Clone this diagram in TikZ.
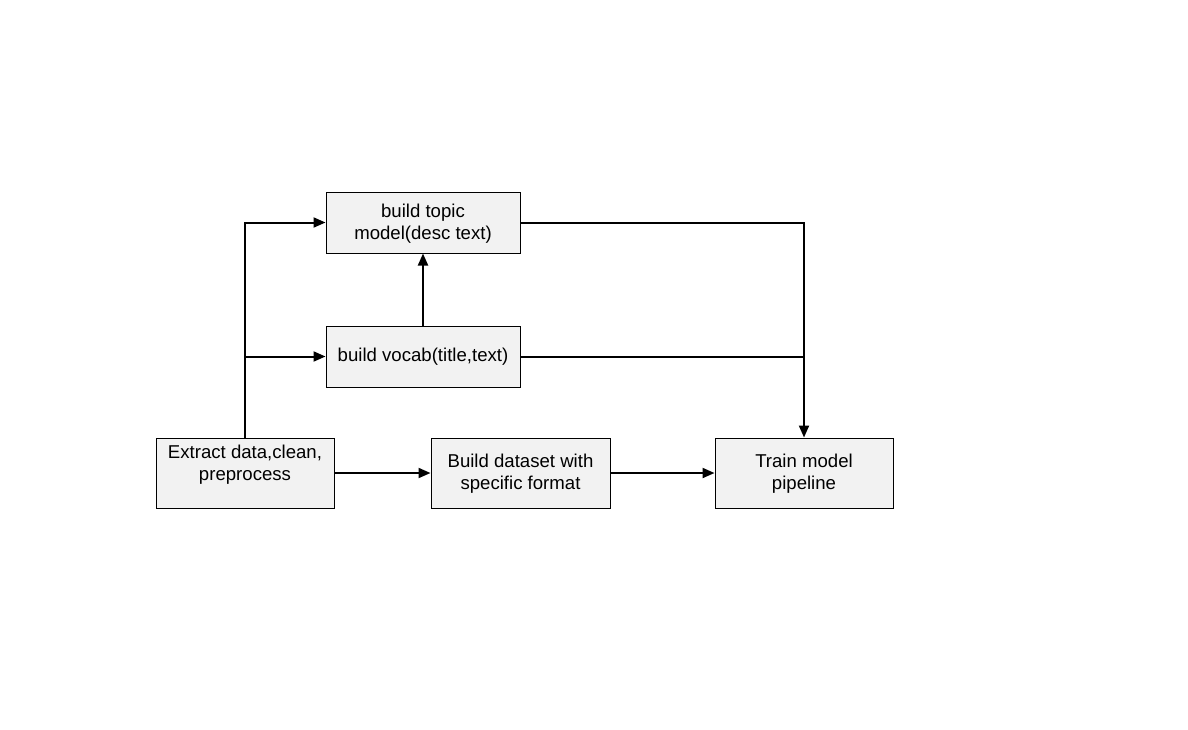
\documentclass[tikz,border=0pt]{standalone}
\usepackage{fontspec}
\setmainfont{Liberation Sans}
\usetikzlibrary{arrows.meta}
\begin{document}
\begin{tikzpicture}[x=0.5pt,y=-0.5pt,
    every node/.style={font=\fontsize{9.3}{11}\selectfont},
    box/.style={draw=black, line width=0.5pt, fill=gray!10, align=center, inner sep=0pt},
    link/.style={line width=1pt},
    arr/.style={link, -{Triangle[length=6pt,width=5pt]}}]
    \useasboundingbox (0,0) rectangle (1188,729);

    % Boxes
    \node[box, minimum width=97pt, minimum height=30.5pt] (topic) at (423,222.5) {\strut build topic\\model(desc text)};
    \node[box, minimum width=97pt, minimum height=30.5pt] (vocab) at (423,356.5) {build vocab(title,text)};
    \node[box, minimum width=89pt, minimum height=35pt] (extract) at (245,473) {\strut Extract data,clean,\\preprocess\\\mbox{}};
    \node[box, minimum width=89.5pt, minimum height=35pt] (dataset) at (520.5,473) {\strut Build dataset with\\specific format};
    \node[box, minimum width=89pt, minimum height=35pt] (train) at (804,473) {\strut Train model\\pipeline};

    % Connectors
    \draw[arr] (extract.north) |- (topic.west);
    \draw[arr] (extract.north |- vocab.west) -- (vocab.west);
    \draw[arr] (vocab.north) -- (topic.south);
    \draw[arr] (topic.east) -| (train.north);
    \draw[link] (vocab.east) -- (vocab.east -| train.north);
    \draw[arr] (extract.east) -- (dataset.west);
    \draw[arr] (dataset.east) -- (train.west);
\end{tikzpicture}
\end{document}
